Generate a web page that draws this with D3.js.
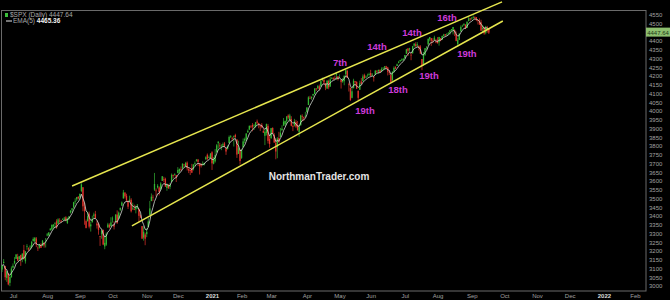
<!DOCTYPE html>
<html>
<head>
<meta charset="utf-8">
<script src="https://cdn.jsdelivr.net/npm/d3@7"></script>
<style>
  html, body { margin: 0; padding: 0; background: #000; }
  svg { display: block; }
</style>
</head>
<body>
<div id="chart"></div>
<script>
// $SPX daily, Jun 22 2020 -> Sep 17 2021 (one line per month)
const opens = [
  3094,3138,3114,3046,3073,3018,3050,
  3105,3143,3155,3166,3154,3177,3152,3205,3141,3226,3209,3225,3224,3269,3254,3272,3219,3219,3235,3228,3232,3270,
  3289,3289,3318,3324,3340,3357,3370,3356,3372,3368,3381,3387,3392,3360,3386,3419,3435,3449,3486,3495,3509,
  3507,3543,3564,3453,3371,3370,3413,3352,3364,3408,3411,3346,3357,3285,3296,3320,3226,3236,3334,3350,3341,
  3385,3339,3367,3408,3384,3435,3459,3500,3534,3515,3453,3493,3493,3439,3439,3438,3464,3441,3404,3342,3277,3294,
  3296,3337,3406,3485,3508,3583,3543,3563,3563,3552,3600,3610,3613,3560,3579,3566,3595,3635,3638,3634,
  3645,3654,3669,3671,3694,3684,3705,3659,3657,3675,3667,3697,3714,3722,3684,3698,3694,3694,3723,3750,3736,3733,
  3764,3698,3712,3764,3816,3803,3801,3803,3815,3788,3782,3816,3857,3845,3852,3863,3837,3755,3778,
  3732,3792,3840,3837,3879,3893,3910,3920,3917,3912,3940,3919,3915,3921,3885,3858,3874,3915,3840,
  3843,3903,3864,3818,3793,3845,3852,3891,3916,3924,3942,3974,3949,3954,3914,3917,3937,3920,3880,3918,3969,3964,3968,
  3993,4034,4075,4074,4089,4096,4124,4130,4141,4140,4175,4179,4159,4128,4171,4139,4185,4188,4186,4206,4198,
  4191,4179,4177,4170,4210,4229,4151,4131,4075,4130,4170,4166,4075,4121,4168,4170,4205,4191,4201,4210,
  4217,4207,4191,4207,4229,4234,4233,4229,4243,4248,4255,4248,4220,4205,4174,4225,4250,4257,4275,4284,4294,4290,
  4301,4327,4357,4351,4321,4329,4373,4381,4381,4370,4368,4297,4266,4321,4362,4381,4409,4416,4403,4404,4396,
  4406,4392,4415,4406,4429,4438,4436,4442,4447,4461,4462,4462,4440,4383,4406,4454,4485,4490,4493,4474,4513,4529,
  4528,4535,4532,4536,4518,4514,4506,4474,4479,4447,4477,4470
];
const highs = [
  3120,3154,3115,3087,3073,3054,3112,
  3129,3165,3183,3184,3172,3179,3187,3235,3200,3239,3221,3233,3258,3278,3279,3280,3227,3241,3244,3263,3251,3272,
  3303,3306,3330,3352,3353,3364,3381,3387,3387,3378,3388,3395,3399,3391,3400,3432,3445,3481,3501,3509,3514,
  3528,3588,3565,3479,3380,3425,3425,3368,3402,3419,3429,3376,3362,3286,3321,3323,3279,3306,3361,3358,3393,
  3397,3370,3409,3432,3426,3447,3483,3549,3535,3527,3490,3516,3502,3476,3465,3460,3466,3441,3409,3342,3342,3304,
  3330,3389,3486,3529,3521,3646,3557,3582,3569,3593,3628,3624,3619,3585,3581,3589,3643,3636,3644,3634,
  3679,3671,3683,3700,3698,3709,3712,3678,3665,3698,3695,3712,3725,3726,3702,3699,3712,3703,3741,3757,3745,3760,
  3770,3737,3783,3811,3827,3818,3810,3820,3823,3789,3804,3860,3862,3852,3860,3870,3837,3830,3779,
  3784,3843,3848,3872,3894,3916,3919,3931,3925,3937,3951,3933,3921,3931,3902,3895,3928,3926,3862,
  3903,3907,3873,3844,3851,3881,3903,3918,3960,3944,3970,3981,3984,3970,3922,3955,3949,3943,3919,3978,3981,3968,3995,
  4021,4084,4087,4084,4098,4129,4131,4148,4151,4174,4191,4180,4160,4175,4179,4195,4194,4193,4202,4219,4199,
  4209,4180,4188,4202,4238,4236,4162,4135,4132,4184,4171,4170,4116,4173,4188,4209,4213,4203,4213,4219,
  4235,4217,4201,4234,4233,4237,4238,4249,4249,4256,4258,4252,4233,4212,4226,4255,4256,4271,4286,4292,4300,4302,
  4320,4355,4359,4361,4331,4372,4387,4393,4393,4376,4376,4297,4337,4359,4369,4415,4422,4416,4416,4430,4412,
  4422,4423,4417,4430,4441,4439,4445,4449,4461,4468,4480,4467,4454,4418,4443,4489,4493,4502,4495,4513,4537,4531,
  4537,4546,4541,4536,4521,4529,4521,4492,4479,4486,4486,4471
];
const lows = [
  3080,3127,3033,3024,3004,2999,3048,
  3101,3124,3155,3142,3144,3115,3136,3150,3128,3207,3198,3206,3215,3253,3252,3222,3200,3214,3217,3228,3219,3220,
  3284,3287,3317,3318,3329,3335,3327,3356,3363,3362,3377,3370,3369,3354,3379,3414,3422,3444,3469,3484,3494,
  3494,3536,3427,3350,3329,3369,3329,3311,3363,3385,3385,3328,3293,3229,3270,3233,3210,3229,3334,3328,3341,
  3362,3323,3367,3354,3384,3428,3458,3500,3500,3480,3440,3483,3420,3435,3433,3415,3440,3364,3388,3268,3259,3233,
  3279,3336,3405,3485,3484,3543,3511,3557,3518,3552,3601,3594,3567,3544,3556,3553,3595,3617,3630,3594,
  3645,3645,3658,3670,3680,3678,3660,3645,3634,3645,3660,3685,3710,3685,3637,3677,3690,3689,3723,3720,3731,3726,
  3663,3695,3705,3764,3784,3789,3776,3792,3792,3749,3780,3816,3845,3831,3797,3847,3732,3755,3694,
  3726,3792,3817,3827,3874,3892,3903,3884,3891,3905,3923,3901,3885,3901,3874,3805,3860,3814,3790,
  3843,3869,3818,3724,3730,3819,3852,3885,3916,3915,3924,3953,3936,3912,3885,3911,3902,3889,3853,3917,3940,3944,3966,
  3992,4034,4069,4064,4083,4096,4114,4124,4120,4140,4170,4151,4119,4126,4124,4139,4182,4177,4181,4177,4174,
  4188,4128,4161,4147,4202,4188,4111,4057,4072,4130,4143,4125,4061,4121,4152,4170,4182,4188,4198,4203,
  4197,4198,4168,4206,4217,4211,4219,4221,4233,4234,4238,4203,4206,4165,4174,4218,4240,4257,4272,4281,4286,4288,
  4300,4326,4314,4338,4290,4329,4366,4368,4363,4346,4326,4233,4259,4315,4350,4373,4398,4372,4387,4404,4387,
  4385,4373,4398,4405,4424,4424,4430,4436,4436,4457,4437,4428,4398,4367,4406,4454,4482,4486,4468,4474,4513,4515,
  4522,4527,4522,4513,4494,4493,4457,4446,4435,4438,4447,4440
];
const closes = [
  3117.86,3131.29,3050.33,3083.76,3009.05,3053.24,3100.29,
  3115.86,3130.01,3179.72,3145.32,3169.94,3152.05,3185.04,3155.22,3197.52,3226.56,3215.57,3224.73,3251.84,3257.30,3276.02,3235.66,3215.63,3239.41,3218.44,3258.44,3246.22,3271.12,
  3294.61,3306.51,3327.77,3349.16,3351.28,3360.47,3333.69,3380.35,3373.43,3372.85,3381.99,3389.78,3374.85,3385.51,3397.16,3431.28,3443.62,3478.73,3484.55,3508.01,3500.31,
  3526.65,3580.84,3455.06,3426.96,3331.84,3398.96,3339.19,3340.97,3383.54,3401.20,3385.49,3357.01,3319.47,3281.06,3315.57,3236.92,3246.59,3298.46,3351.60,3335.47,3363.00,
  3380.80,3348.42,3408.60,3360.97,3419.44,3446.83,3477.14,3534.22,3511.93,3488.67,3483.34,3483.81,3426.92,3443.12,3435.56,3453.49,3465.39,3400.97,3390.68,3271.03,3310.11,3269.96,
  3310.24,3369.16,3443.44,3510.45,3509.44,3550.50,3545.53,3572.66,3537.01,3585.15,3626.91,3609.53,3567.79,3581.87,3557.54,3577.59,3635.41,3629.65,3638.35,3621.63,
  3662.45,3669.01,3666.72,3699.12,3691.96,3702.25,3672.82,3668.10,3663.46,3647.49,3694.62,3701.17,3722.48,3709.41,3694.92,3687.26,3690.01,3703.06,3735.36,3727.04,3732.04,3756.07,
  3700.65,3726.86,3748.14,3803.79,3824.68,3799.61,3801.19,3809.84,3795.54,3768.25,3798.91,3851.85,3853.07,3841.47,3855.36,3849.62,3750.77,3787.38,3714.24,
  3773.86,3826.31,3830.17,3871.74,3886.83,3915.59,3911.23,3909.88,3916.38,3934.83,3932.59,3931.33,3913.97,3906.71,3876.50,3881.37,3925.43,3829.34,3811.15,
  3901.82,3870.29,3819.72,3768.47,3841.94,3821.35,3875.44,3898.81,3939.34,3943.34,3968.94,3962.71,3974.12,3915.46,3913.10,3940.59,3910.52,3889.14,3909.52,3974.54,3971.09,3958.55,3972.89,
  4019.87,4077.91,4073.94,4079.95,4097.17,4128.80,4127.99,4141.59,4124.66,4170.42,4185.47,4163.26,4134.94,4173.42,4134.98,4180.17,4187.62,4186.72,4183.18,4211.47,4181.17,
  4192.66,4164.66,4167.59,4201.62,4232.60,4188.43,4152.10,4063.04,4112.50,4173.85,4163.29,4127.83,4115.68,4159.12,4155.86,4197.05,4188.13,4195.99,4200.88,4204.11,
  4202.04,4208.12,4192.85,4229.89,4226.52,4227.26,4219.55,4239.18,4247.44,4255.15,4246.59,4223.70,4221.86,4166.45,4224.79,4246.44,4241.84,4266.49,4280.70,4290.61,4291.80,4297.50,
  4319.94,4352.34,4343.54,4358.13,4320.82,4369.55,4384.63,4369.21,4374.30,4360.03,4327.16,4258.49,4323.06,4358.69,4367.48,4411.79,4422.30,4401.46,4400.64,4419.15,4395.26,
  4387.16,4423.15,4402.66,4429.10,4436.52,4432.35,4436.75,4447.70,4460.83,4468.00,4479.71,4448.08,4400.27,4405.80,4441.67,4479.53,4486.23,4496.19,4470.00,4509.37,4528.79,4522.68,
  4524.09,4536.95,4535.43,4520.03,4514.07,4493.28,4458.58,4468.73,4443.05,4480.70,4473.75,4447.64
];

// month labels, placed at the trading-day index of the 1st session
const monthLabels = ["Jul","Aug","Sep","Oct","Nov","Dec","2021","Feb","Mar","Apr","May","Jun",
                     "Jul","Aug","Sep","Oct","Nov","Dec","2022","Feb"];
const monthIndex  = [7,29,50,71,93,113,135,154,173,196,217,237,259,280,302,323,344,365,387,407];

const priceTicks = [3000,3050,3100,3150,3200,3250,3300,3350,3400,3450,3500,3550,3600,3650,3700,3750,
                    3800,3850,3900,3950,4000,4050,4100,4150,4200,4250,4300,4350,4400,4450,4500,4550];

// trendlines: [day index, price] at each end
const upperLine = [[45, 3571], [321.5, 4623]];
const lowerLine = [[83.5, 3343], [322, 4514]];

// magenta date notes
const noteText  = ["7th","14th","14th","16th","19th","18th","19th","19th"];
const noteDay   = [217.3,241.1,263.6,286.1,233.4,254.6,274.5,298.9];
const notePrice = [4274,4366,4446,4531,4000,4120,4200,4326];

const lastPrice = "4447.64";
const emaLabel = "4465.36";

const width = 670, height = 300;
const font = "'Liberation Sans', Arial, sans-serif";

const svg = d3.select("#chart")
  .append("svg")
  .attr("width", width)
  .attr("height", height)
  .style("background", "#000");

const x = d3.scaleLinear().domain([0, 407]).range([2.1, 635]);
const y = d3.scaleLinear().domain([3000, 4550]).range([286, 14.7]);

// frame
svg.append("rect")
  .attr("x", 1.5).attr("y", 10.5)
  .attr("width", 644.5).attr("height", 280.5)
  .attr("fill", "none")
  .attr("stroke", "#6a6a6a")
  .attr("stroke-width", 1);

// y axis on the right; labels under the last-price box are hidden like in the original
const py = y(+lastPrice);
const yAxis = svg.append("g")
  .attr("transform", "translate(646,0)")
  .call(d3.axisRight(y)
    .tickValues(priceTicks.filter(v => Math.abs(y(v) - py) > 6))
    .tickSize(0).tickPadding(3).tickFormat(d3.format("d")));
yAxis.select(".domain").remove();
yAxis.selectAll("text")
  .attr("fill", "#a0a0a0")
  .attr("font-size", "6px")
  .attr("font-family", font);

// x axis months
const xAxis = svg.append("g")
  .attr("transform", "translate(0,291)")
  .call(d3.axisBottom(x).tickValues(monthIndex).tickSize(0).tickPadding(2.5)
    .tickFormat((d, i) => monthLabels[i]));
xAxis.select(".domain").remove();
xAxis.selectAll("text")
  .attr("fill", (d, i) => monthLabels[i].length === 4 ? "#dcdcdc" : "#a0a0a0")
  .attr("font-weight", (d, i) => monthLabels[i].length === 4 ? "bold" : "normal")
  .attr("font-size", "6px")
  .attr("font-family", font);

// candles, coloured on close vs previous close
const days = d3.range(closes.length);
const candleColor = i => {
  const prev = i === 0 ? opens[0] : closes[i - 1];
  return closes[i] >= prev ? "#33b533" : "#e2332b";
};

svg.append("g")
  .selectAll("line")
  .data(days)
  .join("line")
    .attr("x1", i => x(i)).attr("x2", i => x(i))
    .attr("y1", i => y(highs[i])).attr("y2", i => y(lows[i]))
    .attr("stroke", candleColor)
    .attr("stroke-width", 0.7);

svg.append("g")
  .selectAll("rect")
  .data(days)
  .join("rect")
    .attr("x", i => x(i) - 0.65)
    .attr("width", 1.3)
    .attr("y", i => y(Math.max(opens[i], closes[i])))
    .attr("height", i => Math.max(0.7, Math.abs(y(opens[i]) - y(closes[i]))))
    .attr("fill", candleColor);

// EMA(5) of closes
const ema = [];
closes.forEach((c, i) => ema.push(i === 0 ? c : ema[i - 1] + (c - ema[i - 1]) * 2 / 6));

svg.append("path")
  .datum(ema)
  .attr("fill", "none")
  .attr("stroke", "#d4dad2")
  .attr("stroke-width", 0.8)
  .attr("d", d3.line().x((d, i) => x(i)).y(d => y(d)));

// trendlines
[upperLine, lowerLine].forEach(seg => {
  svg.append("line")
    .attr("x1", x(seg[0][0])).attr("y1", y(seg[0][1]))
    .attr("x2", x(seg[1][0])).attr("y2", y(seg[1][1]))
    .attr("stroke", "#e6e64e")
    .attr("stroke-width", 1.5);
});

// notes
svg.append("g")
  .selectAll("text")
  .data(noteText)
  .join("text")
    .attr("x", (d, i) => x(noteDay[i]))
    .attr("y", (d, i) => y(notePrice[i]))
    .attr("dy", "0.35em")
    .attr("text-anchor", "middle")
    .attr("fill", "#cc3ad8")
    .attr("font-weight", "bold")
    .attr("font-size", "9.5px")
    .attr("font-family", font)
    .text(d => d);

// watermark
svg.append("text")
  .attr("x", 319).attr("y", 180)
  .attr("text-anchor", "middle")
  .attr("fill", "#e4e4e4")
  .attr("font-weight", "bold")
  .attr("font-size", "10px")
  .attr("font-family", font)
  .text("NorthmanTrader.com");

// last price box
svg.append("rect")
  .attr("x", 646).attr("y", py - 5)
  .attr("width", 24).attr("height", 9)
  .attr("fill", "#8dbf6e");
svg.append("text")
  .attr("x", 658).attr("y", py)
  .attr("dy", "0.35em")
  .attr("text-anchor", "middle")
  .attr("fill", "#203818")
  .attr("font-size", "6px")
  .attr("font-family", font)
  .text(lastPrice);

// legend
svg.append("rect")
  .attr("x", 5).attr("y", 13).attr("width", 3).attr("height", 4)
  .attr("fill", "#3cbf3c");
svg.append("text")
  .attr("x", 10).attr("y", 17)
  .attr("fill", "#a8a8a8")
  .attr("font-size", "6.5px")
  .attr("font-family", font)
  .text("$SPX (Daily) " + lastPrice);
svg.append("line")
  .attr("x1", 6).attr("x2", 12).attr("y1", 21).attr("y2", 21)
  .attr("stroke", "#e8e8e8").attr("stroke-width", 1);
const emaText = svg.append("text")
  .attr("x", 13).attr("y", 23)
  .attr("fill", "#a8a8a8")
  .attr("font-size", "6.5px")
  .attr("font-family", font);
emaText.append("tspan").text("EMA(5) ");
emaText.append("tspan").attr("fill", "#f2f2f2").attr("font-weight", "bold").text(emaLabel);
</script>
</body>
</html>
